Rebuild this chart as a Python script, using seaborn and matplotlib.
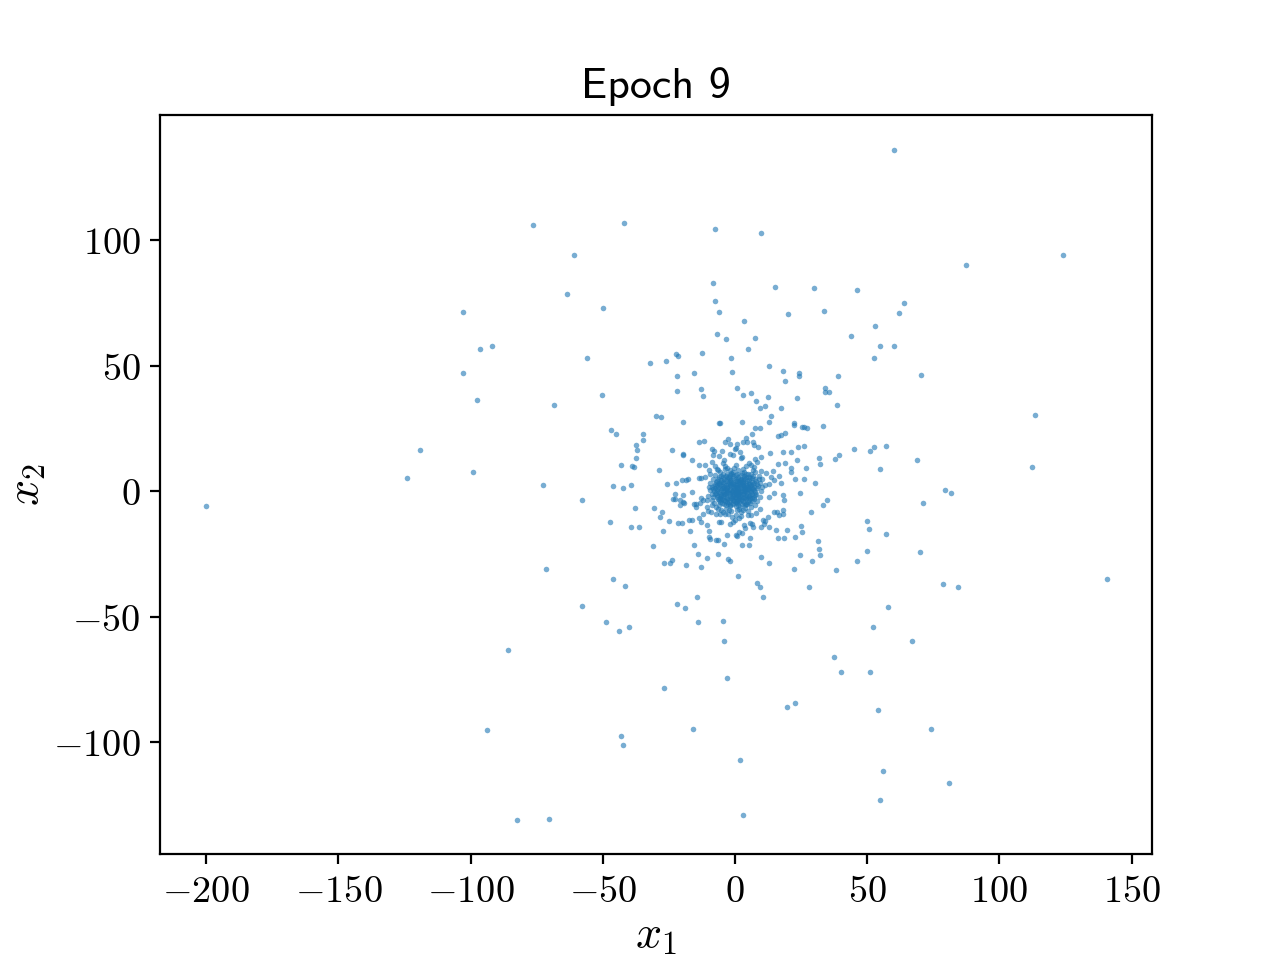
import matplotlib
matplotlib.use("Agg")
import matplotlib.pyplot as plt
import pandas as pd
import seaborn as sns

# points: far field
outer_points = [
    (-200, -6), (-124, 5.5), (-119, 16.5), (-99, 7.5), (-103, 47), (-103, 71.5), (-96.5, 56.5), (-92, 58),
    (-97.5, 36.5), (-76.5, 106), (-61, 94), (-63.5, 78.5), (-50, 73), (-42, 107), (-7.5, 104.5), (10, 103),
    (60, 136), (124, 94), (87.5, 90), (-8.5, 83), (-7.5, 76), (-6, 71.5), (15, 81.5), (30, 81), (46, 80),
    (64, 75), (62, 71), (53, 66), (33.5, 72), (20, 70.5), (3.5, 68), (44, 62), (7.5, 61), (-7, 62.5),
    (-3.5, 60.5), (52.5, 53), (55, 58), (60, 58), (70.5, 46.5), (-56, 53), (-68.5, 34.5), (-32, 51), (-26, 52),
    (-22.5, 54.5), (-21.5, 54), (-12.5, 55), (-15.5, 47), (-1.5, 53), (5, 56.5), (-22, 46), (13, 50), (18, 48),
    (24, 47), (24, 46), (19, 44), (39, 46), (-1, 47.5), (113.5, 30.5), (112.5, 9.5), (140.5, -35), (79.5, 0.5),
    (81.5, -0.5), (69, 12.5), (71, -4.5), (55, 9), (57, 18), (57, -17), (70, -24), (78.5, -37), (84.5, -38),
    (58, -46), (52, -54), (67, -59.5), (37.5, -66), (40, -72), (51, -72), (54, -87), (74, -94.5), (56, -111.5),
    (81, -116), (55, -123), (3, -129), (2, -107), (22.5, -84.5), (19.5, -86), (-3, -74.5), (-4, -59.5),
    (-4.5, -51.5), (10.5, -42), (-27, -78.5), (-16, -94.5), (-43, -97.5), (-42.5, -101), (-94, -95), (-86, -63),
    (-82.5, -131), (-70.5, -130.5), (-71.5, -31), (-58, -45.5), (-49, -52), (-44, -55.5), (-40, -54), (-22, -45),
    (-19, -46.5), (-14.5, -42), (-14, -52), (-72.5, 2.5), (-58, -3.5),
]

# ring around the core
mid_points = [
    (-50.3, 38.5), (-22, 40), (-13, 40.6), (-12, 38), (0.6, 41), (3, 38.4), (6, 39), (12.5, 37.7), (8, 36),
    (11.5, 34), (9.6, 33), (17.5, 33), (23.5, 37), (34, 41), (34, 39.5), (35.5, 39.5), (38.6, 34.5), (13.6, 30),
    (13, 27.8), (2.6, 27.8), (-6, 27.4), (-5.8, 27.2), (-19.5, 27.8), (-30, 30), (-28, 29.6), (-47, 24.5),
    (-45, 23), (-34.7, 23), (-34.8, 20.5), (-37.5, 18.6), (-37.2, 16.5), (-37.6, 13.3), (-43, 10.4), (-39, 10),
    (-38.2, 9.8), (-28.9, 8.5), (-24, 16.6), (-19.7, 15), (-19.5, 14.5), (-16.3, 12.5), (-13.5, 19.5),
    (-11.6, 20), (-13.5, 10.6), (-11.2, 10.6), (-8.6, 17), (-8, 16), (-8.4, 14.3), (-6, 14), (-4.8, 16),
    (-3.7, 19.5), (-2.6, 21), (-2, 19), (0.8, 19), (0, 17), (0.5, 17.2), (-1.9, 15), (-0.6, 14.3), (1.8, 15.7),
    (2.4, 13.3), (2.7, 13.6), (-4.2, 12.4), (-4.4, 11.3), (-8.8, 11.7), (-7.6, 10), (-6.7, 9), (-9.7, 8.6),
    (-9.5, 6.9), (-11.3, 5.7), (-13.6, 5.3), (-12.9, 5.2), (-20, 4.4), (-18.7, 4.4), (-17.8, 4.8), (-22.3, 3.5),
    (-25.7, 2.8), (-39.2, 2.7), (-46, 2.3), (-42.2, 1.2), (-16.4, -0.1), (-22.8, -1), (-19.5, -1.3), (-23.3, -2.9),
    (-22.7, -2.9), (-20.7, -3.3), (-19.8, -4.2), (-19.3, -4.6), (-21, -5.4), (-15.6, -4.9), (-14.9, -5.2),
    (-14.6, -6.2), (-12.7, -2.5), (-12.2, -3.5), (-13.2, -4.5), (-37.8, -6.8), (-30.6, -6.5), (-27.6, -8.1),
    (-28.2, -10.2), (-25, -11.8), (-47.2, -12.2), (-39.3, -14.2), (-36.2, -14.1), (-27.2, -15.9), (-21.4, -12.7),
    (-20.2, -12.6), (-17.3, -11.4), (-16.1, -11.6), (-13.6, -10.5), (-12.7, -12.2), (-12.2, -9.2), (-10.7, -6.2),
    (-10.3, -7.8), (-10.5, -13.4), (-9.7, -15.8), (-10, -18.3), (-9.5, -19.1), (-7.2, -19.4), (-6.4, -19.4),
    (-6, -12.2), (-5.5, -12.4), (-17.2, -15.8), (-15.4, -21.2), (-13.9, -24.8), (-10.6, -26.4), (-6.3, -24.8),
    (-4, -20.8), (-2.9, -17.4), (-1.8, -13), (-0.9, -12.4), (0.1, -11.6), (0.3, -17.5), (0.9, -17.9), (1.6, -16.2),
    (2.8, -16.6), (2.8, -21.2), (5.4, -21.5), (5.8, -18.5), (3.2, -13.5), (3.9, -14.6), (5, -9.6), (5.7, -12.6),
    (6.9, -14.2), (6.3, -13.1), (10, -26), (13, -28.4), (-2.8, -27), (-2, -27.8), (-18.5, -29.5), (-13, -30.3),
    (-26.9, -28.6), (-24.7, -28.7), (-23.7, -27.2), (-31, -21.8), (-46, -35), (-41.5, -37.7), (1.1, -33.9),
    (8.2, -36.5), (9.5, -38), (28, -38), (22.2, -30.9), (29, -27.9), (24.6, -25.2), (32.3, -25.2), (31.6, -23),
    (31.3, -19.8), (25.5, -16.3), (24.8, -13.7), (22.7, -18.3), (19.7, -15.5), (18.4, -18.6), (16.3, -18.6),
    (15.6, -15.5), (12.7, -14.2), (9.8, -14.3), (11.1, -13), (10.5, -11.4), (11.3, -11.8), (12.6, -10.2),
    (14.8, -8.4), (15.8, -8.1), (16.8, -9.3), (18.2, -8.9), (18.2, -7.3), (28.9, -8.1), (33.3, -5.6), (34.7, -3.6),
    (24.7, -0.5), (18.3, -1.3), (18.4, -3.3), (12.7, -2.3), (14.6, -0.5), (13, 2.9), (11.3, 2.4), (14.9, 4.6),
    (16.8, 6.1), (17.5, 3.5), (13.6, 5.8), (14.5, 8), (10.2, 4.8), (11.6, 7.4), (10, 8), (30.3, 3.5), (26.2, 5),
    (22.8, 4.9), (21.3, 7.7), (21.3, 9.4), (26.7, 9.4), (19, 11.2), (16.4, 10.8), (23.6, 12.4), (21.3, 15.5),
    (18.2, 15.8), (13.2, 15.4), (23.7, 17.5), (26.2, 17.9), (32.3, 11), (31.9, 13.4), (37.8, 13), (39.5, 14.5),
    (44.9, 16.9), (51, 16), (52.7, 17.5), (33.4, 25.9), (22.4, 27.2), (22.4, 26.3), (25.2, 25.5), (26.2, 25.6),
    (27.4, 25.2), (7.7, 25.4), (9.3, 25.4), (6.3, 23), (16.1, 21.9), (17.5, 22.3), (19, 23.2), (3, 19.5), (4, 21.4),
    (4.4, 19.5), (6.6, 19.5), (7.1, 18.6), (8.7, 17.7), (7.6, 12.9), (8.4, 11.7), (9.8, 13.5), (5.2, 11.4), (6, 10.4),
    (7.2, 9.7), (4, 10), (0.4, 10.4), (-3.8, 9), (-3.2, 9.1), (-0.9, 7.7), (49.8, -12), (50.8, -14.9), (49.9, -23.9),
    (46.3, -27.6), (38.3, -31.2),
]

# dense blob in the middle, estimated
core_points = [
    (-3.2, 7.1), (-1.1, 6.8), (2.6, 7.2), (4.3, 6.9), (6.1, 7.0), (-5.4, 6.2), (-2.7, 5.9), (-0.6, 6.1), (1.3, 5.8),
    (3.5, 6.1), (5.2, 5.9), (6.8, 6.2), (-6.3, 5.1), (-4.1, 4.9), (-2.2, 5.2), (0.2, 4.8), (2.1, 5.1), (3.9, 4.9),
    (5.8, 5.2), (7.4, 4.9), (-7.0, 4.1), (-5.2, 3.9), (-3.4, 4.2), (-1.5, 3.8), (0.6, 4.1), (2.7, 3.9), (4.6, 4.2),
    (6.5, 3.8), (8.0, 4.1), (-7.6, 3.1), (-5.9, 2.9), (-4.2, 3.2), (-2.6, 2.8), (-0.9, 3.1), (1.2, 2.9), (3.1, 3.2),
    (5.1, 2.8), (6.9, 3.1), (8.4, 2.9), (-7.9, 2.1), (-6.3, 1.9), (-4.7, 2.2), (-3.0, 1.8), (-1.4, 2.1), (0.4, 1.9),
    (1.9, 2.2), (3.7, 1.8), (5.5, 2.1), (7.2, 1.9), (8.7, 2.1), (-8.2, 1.1), (-6.6, 0.9), (-5.0, 1.2), (-3.5, 0.8),
    (-1.8, 1.1), (-0.2, 0.9), (1.5, 1.2), (3.3, 0.8), (4.9, 1.1), (6.7, 0.9), (8.3, 1.2), (-7.8, 0.1), (-6.1, -0.1),
    (-4.4, 0.2), (-2.9, -0.2), (-1.2, 0.1), (0.7, -0.1), (2.4, 0.2), (4.1, -0.2), (5.9, 0.1), (7.6, -0.1),
    (-7.5, -1.1), (-5.8, -0.9), (-4.0, -1.2), (-2.3, -0.8), (-0.5, -1.1), (1.3, -0.9), (3.0, -1.2), (4.7, -0.8),
    (6.4, -1.1), (8.1, -0.9), (-7.0, -2.1), (-5.3, -1.9), (-3.6, -2.2), (-1.9, -1.8), (-0.1, -2.1), (1.8, -1.9),
    (3.6, -2.2), (5.3, -1.8), (7.0, -2.1), (-6.5, -3.1), (-4.8, -2.9), (-3.1, -3.2), (-1.3, -2.8), (0.5, -3.1),
    (2.2, -2.9), (4.0, -3.2), (5.8, -2.8), (7.3, -3.1), (-5.6, -4.1), (-3.9, -3.9), (-2.2, -4.2), (-0.4, -3.8),
    (1.4, -4.1), (3.1, -3.9), (4.9, -4.2), (6.3, -3.8), (-4.3, -5.1), (-2.6, -4.9), (-0.9, -5.2), (0.8, -4.8),
    (2.6, -5.1), (4.2, -4.9), (-1.8, -6.0), (0.2, -5.9), (1.9, -6.1), (-0.6, 0.4), (0.9, 1.6), (-2.1, 2.7), (1.7, 3.4),
    (-1.0, -0.6), (0.3, -1.5), (2.0, -0.4), (-3.0, 0.5), (-1.7, -2.6), (1.1, 0.2), (3.2, 1.4), (2.9, 2.5), (-2.4, 3.7),
    (0.0, 3.0), (-0.3, 1.4), (1.6, -2.8), (-3.7, -1.0), (3.9, 0.3), (-4.6, 1.5), (4.8, 1.9), (0.6, -3.9), (-1.5, 4.6),
    (2.4, 4.4), (-5.7, -2.5), (5.6, -1.4), (-8.7, -3.6), (-8.9, -5.4), (-9.3, 3.3), (-9.6, 0.4), (-10.1, -2.0),
    (-7.9, -4.8), (-7.2, -6.3), (-6.0, -5.6), (-5.2, -7.4), (-3.4, -7.0), (-1.4, -8.0), (0.7, -7.6), (2.4, -8.4),
    (3.6, -6.6), (4.9, -7.7), (6.2, -6.2), (7.4, -5.4), (8.3, -4.0), (9.4, -2.2), (9.9, 0.3), (9.6, 3.2), (8.9, 6.2),
    (7.7, 7.5), (-7.4, 6.6), (-8.4, 5.0), (-5.8, 7.7), (-1.9, 8.6), (1.2, 8.3),
    (-9.0, -8.3), (-7.3, -9.0), (-5.6, -9.1), (-3.9, -9.2), (-2.6, -8.9), (-1.2, -10.1), (0.4, -9.4), (1.4, -10.6),
    (2.3, -9.8), (6.1, -9.3), (8.1, -8.8), (9.4, -7.1),
]

# second pass over the blob, it reads as nearly solid colour
core_fill = [
    (-6.8, 2.5), (-6.9, 0.5), (-6.7, -1.5), (-5.5, 4.5), (-5.6, 2.4), (-5.4, 0.4), (-5.5, -1.4), (-5.2, -3.4),
    (-4.4, 5.6), (-4.5, 3.6), (-4.3, 1.9), (-4.2, -0.4), (-4.4, -1.9), (-4.1, -3.5), (-3.3, 6.3), (-3.2, 4.9),
    (-3.4, 2.5), (-3.1, 1.4), (-3.3, -0.8), (-3.2, -2.6), (-3.0, -4.4), (-2.0, 6.6), (-2.1, 4.4), (-1.9, 3.1),
    (-2.2, 0.4), (-2.1, -1.2), (-1.8, -3.4), (-1.9, -5.4), (-0.8, 5.4), (-0.7, 3.5), (-0.9, 2.1), (-0.6, -0.4),
    (-0.8, -1.8), (-0.7, -3.3), (-0.6, -4.6), (0.4, 6.4), (0.3, 4.2), (0.5, 2.6), (0.2, 0.3), (0.4, -0.8),
    (0.3, -2.4), (0.2, -4.4), (1.2, 5.0), (1.4, 3.9), (1.1, 1.3), (1.3, -0.4), (1.2, -1.4), (1.1, -3.4), (1.3, -5.4),
    (2.3, 6.4), (2.2, 4.6), (2.4, 3.0), (2.1, 1.4), (2.3, -0.9), (2.2, -2.3), (2.1, -3.6), (3.2, 5.5), (3.1, 4.3),
    (3.3, 2.3), (3.1, 0.2), (3.2, -0.6), (3.4, -2.6), (3.3, -4.6), (4.2, 5.6), (4.3, 3.4), (4.1, 2.4), (4.2, 0.9),
    (4.3, -1.6), (4.1, -2.7), (5.3, 4.6), (5.2, 3.5), (5.4, 1.4), (5.1, 0.4), (5.2, -2.4), (5.4, -3.4), (6.3, 5.4),
    (6.2, 2.4), (6.4, 1.4), (6.2, -0.4), (6.3, -2.5), (7.3, 3.5), (7.2, 0.5), (7.4, -1.5), (-7.4, 1.5), (-7.3, -0.5),
    (-7.2, 3.6), (-6.2, -3.6), (-6.1, 3.5), (-5.9, 5.6), (-4.9, -4.6), (-3.6, -5.6), (3.6, -5.6), (4.6, -5.2),
    (5.6, -4.6), (0.9, 6.9), (-1.4, 7.4), (3.4, 7.6), (5.0, 6.9), (-4.7, 7.0),
    (-8.6, 1.9), (-8.8, -0.9), (-8.5, -2.4), (-6.6, -6.9), (-4.5, -8.3), (-2.3, -7.4), (1.6, -7.0), (3.0, -7.4),
    (-9.8, 1.8), (-10.7, -3.6), (-6.6, 8.3), (-3.8, 9.9), (-0.4, 9.4), (2.9, 9.0), (6.6, 8.4), (9.0, 4.9), (10.3, 1.6),
]

x_ticks = [-200, -150, -100, -50, 0, 50, 100, 150]
y_ticks = [-100, -50, 0, 50, 100]

df = pd.DataFrame(outer_points + mid_points + core_points + core_fill, columns=["x1", "x2"])

plt.rcParams["mathtext.fontset"] = "cm"
plt.rcParams["axes.unicode_minus"] = False

fig, ax = plt.subplots(figsize=(6.4, 4.8), dpi=200)
sns.scatterplot(data=df, x="x1", y="x2", ax=ax, s=4, alpha=0.6, color="#1f77b4", linewidth=0)

ax.set_xlim(-217.5, 157.7)
ax.set_ylim(-144.6, 149.8)
ax.set_xticks(x_ticks)
ax.set_xticklabels([f"${t}$" for t in x_ticks], fontsize=13.8)
ax.set_yticks(y_ticks)
ax.set_yticklabels([f"${t}$" for t in y_ticks], fontsize=13.8)
ax.set_xlabel("$x_1$", fontsize=16.5, labelpad=1)
ax.set_ylabel("$x_2$", fontsize=16.5, labelpad=1.5)
ax.set_title("Epoch 9", fontsize=15.8, family="cmss10", pad=6.3)

plt.savefig("out.png", dpi=200)
